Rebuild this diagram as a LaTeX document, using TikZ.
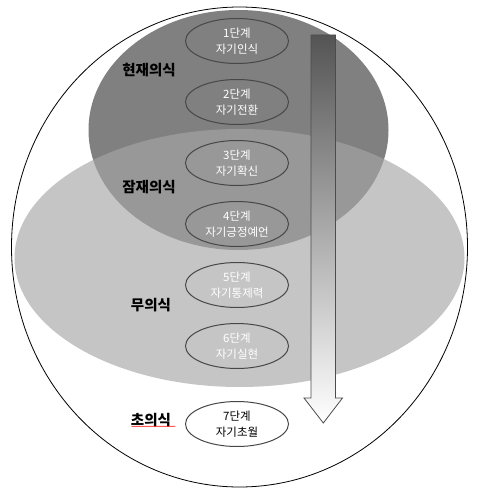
\documentclass[tikz,border=0pt]{standalone}
\usepackage{fontspec}
\setmainfont{Noto Sans CJK KR}
\usetikzlibrary{shapes.geometric, positioning, decorations.pathmorphing}
\tikzstyle{stage} = [ellipse, minimum width=103pt, minimum height=45pt, inner sep=0pt, draw=black!72, line width=1pt, text=white, align=center, font=\fontsize{11.5}{16}\selectfont]
\tikzstyle{level} = [text centered, font=\fontsize{14.5}{16}\selectfont\bfseries]
\tikzstyle{flow} = [draw=black!70, line width=0.8pt, top color=black!67, bottom color=white]

\begin{document}
\begin{tikzpicture}[x=1pt, y=-1pt, node distance=61pt]
				\useasboundingbox (0,0) rectangle (479,495);
				% layers of consciousness
				\fill[black!50] (238.5,130) ellipse [x radius=150, y radius=120];
				\fill[black!35, fill opacity=0.65] (239.5,258) ellipse [x radius=225, y radius=129];
				\draw[line width=0.8pt] (239.5,247) ellipse [x radius=228, y radius=240];

				\node (s1) [stage] at (237,41) {1단계\\자기인식};
				\node (s2) [stage, below of=s1] {2단계\\자기전환};
				\node (s3) [stage, below of=s2] {3단계\\자기확신};
				\node (s4) [stage, below of=s3] {4단계\\자기긍정예언};
				\node (s5) [stage, below of=s4] {5단계\\자기통제력};
				\node (s6) [stage, below of=s5] {6단계\\자기실현};
				\node (s7) [stage, below of=s6, yshift=-17pt, text=black] {7단계\\자기초월};

				\node (now) [level] at (149,70) {현재의식};
				\node (sub) [level] at (149,187) {잠재의식};
				\node (un) [level] at (151,305) {무의식};
				\node (over) [level] at (151,420) {초의식};
				\draw[red, line width=0.4pt, decorate, decoration={snake, amplitude=0.5pt, segment length=2pt}] (over.south west) ++(4,-4) -- ++(44,0);

				\path[flow] (311,35) -- (335.5,35) -- (335.5,398) -- (342.5,398) -- (323.3,423) -- (304,398) -- (311,398) -- cycle;

			\end{tikzpicture}
\end{document}
